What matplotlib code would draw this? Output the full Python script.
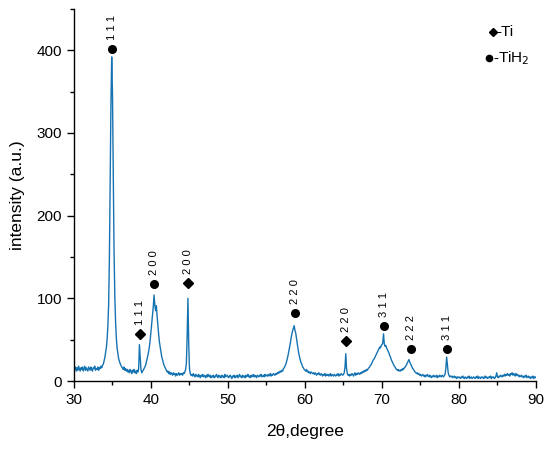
import numpy as np
import matplotlib
matplotlib.use("Agg")
import matplotlib.pyplot as plt

plt.rcParams["font.family"] = ["Liberation Sans", "DejaVu Sans"]

# XRD intensity, 0.1 degree step from 30 to 90 (one row per degree)
intensity = [
    19, 14, 17, 12, 16, 13, 18, 15, 12, 16,
    14, 17, 12, 15, 18, 13, 16, 14, 12, 17,
    15, 13, 17, 14, 12, 16, 15, 18, 13, 15,
    14, 17, 13, 16, 15, 18, 16, 19, 20, 24,
    28, 34, 40, 50, 66, 92, 148, 238, 335, 392,
    348, 248, 160, 104, 72, 52, 40, 33, 27, 24,
    21, 19, 17, 16, 14, 17, 13, 15, 12, 14,
    11, 13, 10, 14, 12, 9, 13, 11, 14, 10,
    12, 9, 13, 11, 15, 44, 28, 14, 10, 12,
    13, 15, 17, 19, 23, 27, 31, 36, 42, 50,
    60, 70, 80, 90, 104, 92, 85, 91, 78, 67,
    56, 47, 41, 35, 29, 26, 22, 19, 17, 15,
    13, 11, 12, 9, 11, 8, 10, 9, 7, 10,
    8, 9, 6, 9, 7, 8, 10, 7, 9, 8,
    9, 7, 10, 9, 11, 14, 22, 55, 100, 46,
    15, 9, 7, 8, 6, 9, 7, 5, 8, 6,
    7, 5, 8, 6, 4, 7, 6, 8, 5, 7,
    6, 4, 7, 5, 8, 6, 5, 7, 4, 6,
    5, 7, 4, 6, 5, 8, 6, 4, 7, 5,
    6, 4, 7, 5, 6, 4, 8, 5, 6, 7,
    5, 4, 6, 7, 5, 3, 6, 5, 7, 4,
    6, 5, 7, 4, 6, 8, 5, 6, 4, 7,
    5, 6, 4, 7, 5, 6, 8, 5, 6, 4,
    7, 5, 6, 8, 5, 7, 6, 4, 7, 6,
    5, 7, 6, 8, 5, 6, 7, 5, 8, 6,
    7, 6, 8, 6, 7, 9, 6, 8, 7, 9,
    8, 7, 9, 8, 10, 9, 11, 10, 12, 11,
    13, 12, 15, 16, 18, 20, 23, 27, 31, 36,
    41, 46, 52, 57, 61, 64, 67, 61, 58, 51,
    45, 39, 33, 29, 25, 22, 20, 17, 16, 14,
    13, 12, 14, 11, 12, 10, 11, 9, 11, 10,
    9, 10, 8, 10, 9, 7, 9, 8, 10, 8,
    7, 9, 8, 6, 8, 7, 9, 6, 8, 7,
    8, 6, 7, 9, 6, 8, 7, 6, 8, 7,
    6, 8, 7, 9, 6, 8, 7, 9, 8, 7,
    8, 10, 17, 33, 15, 9, 7, 8, 6, 8,
    7, 9, 8, 6, 8, 10, 7, 9, 8, 10,
    9, 8, 10, 9, 11, 10, 12, 11, 13, 12,
    14, 13, 15, 16, 17, 19, 20, 22, 24, 26,
    27, 29, 31, 33, 35, 37, 39, 41, 40, 43,
    44, 46, 57, 45, 42, 43, 40, 38, 36, 34,
    31, 29, 26, 24, 22, 20, 18, 17, 15, 14,
    13, 14, 12, 13, 12, 14, 13, 15, 14, 16,
    17, 18, 20, 22, 24, 26, 23, 21, 19, 17,
    15, 14, 12, 11, 10, 9, 10, 8, 9, 7,
    8, 6, 7, 8, 6, 7, 5, 7, 6, 8,
    6, 5, 7, 6, 4, 6, 5, 7, 5, 6,
    5, 7, 4, 6, 5, 7, 6, 5, 7, 6,
    5, 7, 8, 16, 29, 20, 10, 7, 5, 6,
    5, 6, 4, 5, 6, 4, 5, 3, 5, 4,
    5, 4, 3, 5, 4, 6, 4, 3, 5, 4,
    3, 5, 4, 6, 3, 4, 5, 3, 4, 5,
    4, 3, 5, 4, 6, 3, 5, 4, 3, 5,
    4, 5, 3, 4, 6, 4, 5, 3, 4, 5,
    4, 6, 3, 5, 4, 5, 3, 4, 6, 10,
    5, 4, 6, 5, 7, 6, 5, 7, 6, 8,
    6, 8, 7, 9, 7, 8, 6, 9, 8, 10,
    7, 9, 8, 6, 9, 7, 8, 6, 7, 5,
    6, 7, 5, 6, 4, 6, 5, 7, 4, 5,
    6, 4, 5, 3, 5, 4, 6, 3, 5, 4,
    5,
]
two_theta = np.linspace(30, 90, len(intensity))

# peak assignments
peak_pos = [34.9, 38.6, 40.4, 44.85, 58.65, 65.3, 70.25, 73.8, 78.45]
peak_mark = [401, 57, 117, 118, 82, 48, 67, 39, 39]
peak_phase = ["TiH2", "Ti", "TiH2", "Ti", "TiH2", "Ti", "TiH2", "TiH2", "TiH2"]
peak_hkl = ["111", "111", "200", "200", "220", "220", "311", "222", "311"]

x_ticks = [30, 40, 50, 60, 70, 80, 90]
y_ticks = [0, 100, 200, 300, 400]


def main():
    fig = plt.figure(figsize=(5.5, 4.49), dpi=100)
    ax = fig.add_axes([0.1345, 0.1514, 0.84, 0.8286])

    ax.plot(two_theta, intensity, color="#1673b1", lw=1.0)

    for pos, ym, phase, hkl in zip(peak_pos, peak_mark, peak_phase, peak_hkl):
        if phase == "Ti":
            ax.plot(pos, ym, marker="D", ms=5.5, color="black", clip_on=False)
        else:
            ax.plot(pos, ym, marker="o", ms=5.5, color="black", clip_on=False)
        ax.annotate(" ".join(hkl), (pos, ym), xytext=(0, 6.5), textcoords="offset points",
                    rotation=90, ha="center", va="bottom", fontsize=8)

    # hand-made legend
    ax.plot(0.907, 0.938, marker="D", ms=4.5, color="black", transform=ax.transAxes, clip_on=False)
    ax.text(0.915, 0.938, "-Ti", transform=ax.transAxes, fontsize=11, va="center", ha="left")
    ax.plot(0.899, 0.868, marker="o", ms=4.5, color="black", transform=ax.transAxes, clip_on=False)
    ax.text(0.907, 0.868, "-TiH$_2$", transform=ax.transAxes, fontsize=11, va="center", ha="left")

    ax.set_xlim(30, 90)
    ax.set_ylim(0, 450)
    ax.set_xticks(x_ticks)
    ax.set_yticks(y_ticks)
    ax.set_xticks(np.arange(35, 90, 10), minor=True)
    ax.set_yticks(np.arange(50, 451, 100), minor=True)
    ax.tick_params(which="major", length=5, width=1, labelsize=11, direction="out")
    ax.tick_params(which="minor", length=3, width=1, direction="out")

    for side in ["top", "right"]:
        ax.spines[side].set_visible(False)
    for side in ["left", "bottom"]:
        ax.spines[side].set_linewidth(1.0)

    ax.set_xlabel("2θ,degree", fontsize=12.5)
    ax.set_ylabel("intensity (a.u.)", fontsize=12.5)
    ax.xaxis.set_label_coords(0.5, -0.115)
    ax.yaxis.set_label_coords(-0.105, 0.5)

    fig.savefig("out.png", dpi=100)


if __name__ == "__main__":
    main()
